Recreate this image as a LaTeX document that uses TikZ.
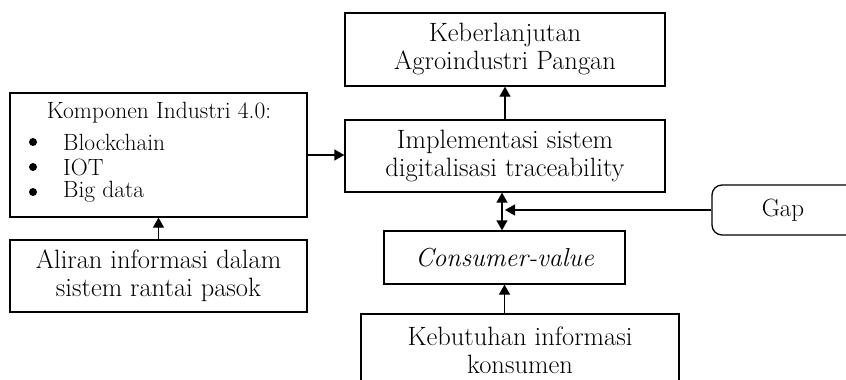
\documentclass[tikz,border=0pt]{standalone}
\usetikzlibrary{arrows.meta}
\begin{document}
\begin{tikzpicture}[x=1pt, y=-1pt,
  box/.style={draw, line width=1.3pt, inner sep=0pt, align=center,
    font=\fontsize{26.5}{28}\selectfont},
  small/.style={inner sep=0pt, font=\fontsize{23.5}{25}\selectfont},
  dot/.style={circle, fill, inner sep=0pt, minimum size=8pt},
  link/.style={line width=1.3pt, -{Triangle[length=10pt,width=11pt]}},
  dlink/.style={line width=1.3pt, {Triangle[length=10pt,width=11pt]}-{Triangle[length=10pt,width=11pt]}}]
\useasboundingbox (0,0) rectangle (846,380);
\clip (0,0) rectangle (846,380);

% main column
\node[box, minimum width=320pt, minimum height=73pt] (keber) at (505,49.5)
  {Keberlanjutan\\Agroindustri Pangan};
\node[box, minimum width=320pt, minimum height=72pt] (impl) at (505,156)
  {Implementasi sistem\\digitalisasi traceability};
\node[box, minimum width=241pt, minimum height=53pt] (cons) at (504.5,257.5)
  {\fontsize{26}{28}\selectfont\itshape Consumer-value};
\node[box, minimum width=318pt, minimum height=72pt] (kebut) at (520,350)
  {Kebutuhan informasi\\konsumen};

% gap box on the right
\node[box, rounded corners=10pt, minimum width=148pt, minimum height=50pt,
  font=\fontsize{25}{27}\selectfont, text width=148pt] (gap) at (786,210) {\hspace*{-6pt}Gap};

% left column
\node[box, minimum width=297pt, minimum height=124pt] (komp) at (158.5,155) {};
\node[small] (kompt) at (159,113) {Komponen Industri 4.0:};
\node[dot] (b1) at (33,142) {};
\node[dot] (b2) at (33,167) {};
\node[dot] (b3) at (33,192) {};
\node[small, anchor=west] (i1) at (63,142) {Blockchain};
\node[small, anchor=west] (i2) at (63,167) {IOT};
\node[small, anchor=west] (i3) at (63,192) {Big data};
\node[box, minimum width=297pt, minimum height=72pt] (aliran) at (158.5,276)
  {Aliran informasi dalam\\sistem rantai pasok};

% connectors
\draw[link] (impl.north) -- (keber.south);
\draw[link] (komp.east) -- (komp.east -| impl.west);
\draw[link] (aliran.north) -- (komp.south);
\draw[link] (cons.south |- kebut.north) -- (cons.south);
\draw[dlink] ([xshift=-3pt]impl.south) -- ([xshift=-2.5pt]cons.north);
\coordinate (join) at (505,210);
\draw[link] (gap.west) -- (join);
\end{tikzpicture}
\end{document}
